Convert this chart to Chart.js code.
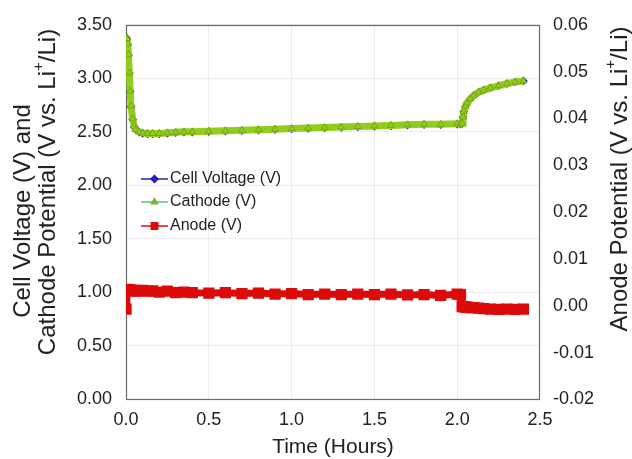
<!DOCTYPE html>
<html lang="en">
<head>
  <meta charset="UTF-8">
  <title>Cell voltage, cathode and anode potential</title>
  <script src="https://cdn.jsdelivr.net/npm/chart.js"></script>
  <style>
    body { margin: 0; background: #fff; }
    #wrap { width: 632px; height: 459px; }
  </style>
</head>
<body>
<div id="wrap"><canvas id="chart" width="632" height="459"></canvas></div>

<script>
// time in hours
const timeHours = [0, 0.005, 0.01, 0.015, 0.02, 0.025, 0.03, 0.04, 0.05, 0.06,
  0.08, 0.10, 0.13, 0.16, 0.20, 0.25, 0.30, 0.35, 0.40, 0.50,
  0.60, 0.70, 0.80, 0.90, 1.00, 1.10, 1.20, 1.30, 1.40, 1.50,
  1.60, 1.70, 1.80, 1.90, 2.00, 2.02, 2.03, 2.035, 2.04, 2.05,
  2.06, 2.08, 2.10, 2.13, 2.16, 2.20, 2.25, 2.30, 2.35, 2.40];

const cellVoltage = [3.381, 3.367, 3.317, 3.217, 3.047, 2.877, 2.737, 2.617, 2.547, 2.517,
  2.497, 2.487, 2.482, 2.482, 2.482, 2.487, 2.492, 2.497, 2.497, 2.502,
  2.507, 2.512, 2.517, 2.522, 2.527, 2.532, 2.537, 2.542, 2.547, 2.552,
  2.557, 2.562, 2.567, 2.567, 2.572, 2.572, 2.580, 2.640, 2.690, 2.740,
  2.770, 2.810, 2.840, 2.871, 2.891, 2.911, 2.931, 2.951, 2.966, 2.976];

const cathode = [3.38, 3.37, 3.32, 3.22, 3.05, 2.88, 2.74, 2.62, 2.55, 2.52,
  2.50, 2.49, 2.485, 2.485, 2.485, 2.49, 2.495, 2.50, 2.50, 2.505,
  2.51, 2.515, 2.52, 2.525, 2.53, 2.535, 2.54, 2.545, 2.55, 2.555,
  2.56, 2.565, 2.57, 2.57, 2.575, 2.575, 2.58, 2.64, 2.69, 2.74,
  2.77, 2.81, 2.84, 2.87, 2.89, 2.91, 2.93, 2.95, 2.965, 2.975];

// anode, right axis
const anode = [-0.0007, 0.0033, 0.0035, 0.0034, 0.0033, 0.0034, 0.0033, 0.0032, 0.0033, 0.0031,
  0.0032, 0.0033, 0.0031, 0.0032, 0.0029, 0.0031, 0.0028, 0.0029, 0.0028, 0.0027,
  0.0028, 0.0026, 0.0027, 0.0025, 0.0026, 0.0024, 0.0025, 0.0024, 0.0025, 0.0024,
  0.0025, 0.0023, 0.0024, 0.0022, 0.0025, 0.0024, -0.0001, -0.0002, -0.0002, -0.0003,
  -0.0003, -0.0004, -0.0004, -0.0005, -0.0006, -0.0007, -0.0008, -0.0007, -0.0008, -0.0007];

const seriesNames = ['Cell Voltage (V)', 'Cathode (V)', 'Anode (V)'];

const BLUE = '#2424b0', GREEN = '#92cc1c', RED = '#dd0a0a';
const FONT = '"Liberation Sans", Arial, Helvetica, sans-serif';
const TXT = '#222';

function pts(ys) { return timeHours.map((t, i) => ({ x: t, y: ys[i] })); }

// frame, axis titles and in-plot legend
const overlay = {
  id: 'overlay',
  beforeDatasetsDraw(chart) {
    const ctx = chart.ctx, a = chart.chartArea;
    ctx.save();
    ctx.strokeStyle = '#6a6a6a';
    ctx.lineWidth = 1.2;
    ctx.strokeRect(Math.round(a.left) + 0.5, Math.round(a.top) + 0.5,
      Math.round(a.width) - 1, Math.round(a.height) - 1);
    ctx.restore();
  },
  afterDraw(chart) {
    const ctx = chart.ctx, a = chart.chartArea;
    ctx.save();
    ctx.fillStyle = TXT;
    ctx.textBaseline = 'middle';

    function rich(parts, size) {
      let w = 0;
      parts.forEach(p => {
        ctx.font = (p.sup ? Math.round(size * 0.62) : size) + 'px ' + FONT;
        p.w = ctx.measureText(p.t).width;
        w += p.w;
      });
      let x = -w / 2;
      ctx.textAlign = 'left';
      parts.forEach(p => {
        ctx.font = (p.sup ? Math.round(size * 0.62) : size) + 'px ' + FONT;
        ctx.fillText(p.t, x, p.sup ? -size * 0.38 : 0);
        x += p.w;
      });
    }
    function vertical(parts, cx, cy, size) {
      ctx.save();
      ctx.translate(cx, cy);
      ctx.rotate(-Math.PI / 2);
      rich(parts, size);
      ctx.restore();
    }

    // x title
    ctx.save();
    ctx.translate((a.left + a.right) / 2, 447);
    rich([{ t: 'Time (Hours)' }], 21);
    ctx.restore();

    vertical([{ t: 'Cell Voltage (V) and' }], 23, 211, 24);
    vertical([{ t: 'Cathode Potential (V vs. Li' }, { t: '+', sup: true }, { t: '/Li)' }], 48, 192, 24);
    vertical([{ t: 'Anode Potential (V vs. Li' }, { t: '+', sup: true }, { t: '/Li)' }], 620, 179, 24);

    // legend
    const styles = [
      { c: BLUE, s: 'rectRot', r: 3.5 },
      { c: '#5fb890', mc: '#7ab52a', s: 'triangle', r: 3.5 },
      { c: RED, s: 'rect', r: 4.5 }
    ];
    const rows = [179, 202, 226];
    seriesNames.forEach((name, i) => {
      const st = styles[i], y = rows[i];
      ctx.strokeStyle = st.c;
      ctx.lineWidth = 1.5;
      ctx.beginPath();
      ctx.moveTo(141, y);
      ctx.lineTo(168, y);
      ctx.stroke();
      ctx.fillStyle = st.mc || st.c;
      ctx.strokeStyle = st.mc || st.c;
      Chart.helpers.drawPoint(ctx, { pointStyle: st.s, radius: st.r, rotation: 0, borderWidth: 1 }, 154.5, y);
      ctx.fillStyle = TXT;
      ctx.font = '16px ' + FONT;
      ctx.textAlign = 'left';
      ctx.fillText(name, 170, y);
    });
    ctx.restore();
  }
};

const tickFont = { family: FONT, size: 18 };

new Chart(document.getElementById('chart'), {
  type: 'scatter',
  data: {
    datasets: [
      {
        label: seriesNames[0], data: pts(cellVoltage), yAxisID: 'y', order: 2,
        showLine: true, borderColor: BLUE, borderWidth: 2,
        pointStyle: 'rectRot', pointRadius: 3, pointBackgroundColor: BLUE, pointBorderColor: BLUE
      },
      {
        label: seriesNames[1], data: pts(cathode), yAxisID: 'y', order: 1,
        showLine: true, borderColor: GREEN, borderWidth: 7,
        pointStyle: 'triangle', pointRadius: 4, pointBackgroundColor: GREEN,
        pointBorderColor: '#6f9e1c', pointBorderWidth: 0.8
      },
      {
        label: seriesNames[2], data: pts(anode), yAxisID: 'y1', order: 0,
        showLine: true, borderColor: RED, borderWidth: 7,
        pointStyle: 'rect', pointRadius: 3, pointBackgroundColor: RED, pointBorderColor: RED
      }
    ]
  },
  options: {
    responsive: false,
    animation: false,
    layout: { padding: { left: 63, right: 25, top: 1, bottom: 18 } },
    plugins: { legend: { display: false }, tooltip: { enabled: false } },
    scales: {
      x: {
        type: 'linear', min: 0, max: 2.5,
        ticks: { stepSize: 0.5, color: TXT, font: tickFont, padding: 10,
          callback: v => v.toFixed(1) },
        grid: { color: '#ececec', drawTicks: false },
        border: { display: false }
      },
      y: {
        position: 'left', min: 0, max: 3.5,
        ticks: { stepSize: 0.5, color: TXT, font: tickFont, padding: 14,
          callback: v => v.toFixed(2) },
        grid: { color: '#ececec', drawTicks: false },
        border: { display: false }
      },
      y1: {
        position: 'right', min: -0.02, max: 0.06,
        ticks: { stepSize: 0.01, color: TXT, font: tickFont, padding: 13,
          callback: v => v.toFixed(2) },
        grid: { drawOnChartArea: false, drawTicks: false },
        border: { display: false }
      }
    }
  },
  plugins: [overlay]
});
</script>
</body>
</html>
